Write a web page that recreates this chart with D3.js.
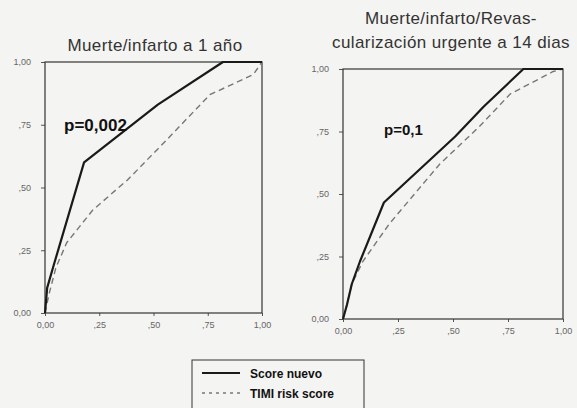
<!DOCTYPE html>
<html>
<head>
<meta charset="utf-8">
<script src="https://cdn.jsdelivr.net/npm/d3@7"></script>
<style>
  body { margin: 0; background: #f4f4f2; }
  svg { display: block; font-family: "Liberation Sans", Arial, sans-serif; }
</style>
</head>
<body>
<div id="chart"></div>
<script>
// tick values and labels (both axes)
const tickVals = [0, 0.25, 0.5, 0.75, 1];
const tickLabels = ["0,00", ",25", ",50", ",75", "1,00"];

// left panel: Muerte/infarto a 1 año
const leftScore = [[0,0],[0.01,0.1],[0.04,0.19],[0.18,0.6],[0.52,0.83],[0.82,1],[1,1]];
const leftTimi = [[0,0],[0.02,0.08],[0.05,0.18],[0.1,0.28],[0.22,0.41],[0.38,0.53],[0.55,0.68],[0.76,0.87],[0.96,0.95],[1,1]];

// right panel: Muerte/infarto/Revascularización urgente a 14 dias
const rightScore = [[0,0],[0.018,0.057],[0.04,0.14],[0.077,0.23],[0.186,0.466],[0.51,0.73],[0.64,0.85],[0.82,1],[1,1]];
const rightTimi = [[0,0],[0.018,0.057],[0.04,0.14],[0.09,0.23],[0.21,0.38],[0.44,0.62],[0.62,0.77],[0.76,0.9],[0.955,0.99],[1,1]];

const svg = d3.select("#chart").append("svg")
    .attr("width", 577)
    .attr("height", 408);

function drawPanel(cfg)
{
    const x = d3.scaleLinear([0, 1], cfg.xr);
    const y = d3.scaleLinear([0, 1], cfg.yr);
    const g = svg.append("g");

    const fmt = (d) => tickLabels[tickVals.indexOf(d)];

    const ax = g.append("g")
        .attr("transform", `translate(0,${cfg.yr[0]})`)
        .call(d3.axisBottom(x).tickValues(tickVals).tickFormat(fmt).tickSize(3).tickSizeOuter(0).tickPadding(6));
    const ay = g.append("g")
        .attr("transform", `translate(${cfg.xr[0]},0)`)
        .call(d3.axisLeft(y).tickValues(tickVals).tickFormat(fmt).tickSize(4).tickSizeOuter(0).tickPadding(10));

    for (const a of [ax, ay]) {
        a.select(".domain").remove();
        a.selectAll("line").attr("stroke", "#555");
        a.selectAll("text").attr("fill", "#666").style("font-size", "9px");
    }

    // frame
    g.append("rect")
        .attr("x", cfg.xr[0]).attr("y", cfg.yr[1])
        .attr("width", cfg.xr[1] - cfg.xr[0])
        .attr("height", cfg.yr[0] - cfg.yr[1])
        .attr("fill", "none")
        .attr("stroke", "#333")
        .attr("stroke-width", 1.2);

    const line = d3.line().x(d => x(d[0])).y(d => y(d[1]));

    g.append("path")
        .datum(cfg.timi)
        .attr("d", line)
        .attr("fill", "none")
        .attr("stroke", "#777")
        .attr("stroke-width", 1.4)
        .attr("stroke-dasharray", "6,4");

    g.append("path")
        .datum(cfg.score)
        .attr("d", line)
        .attr("fill", "none")
        .attr("stroke", "#1a1a1a")
        .attr("stroke-width", 2.2)
        .attr("stroke-linejoin", "round");

    // titles
    cfg.title.forEach((t, i) => {
        g.append("text")
            .attr("x", cfg.titleX)
            .attr("y", cfg.titleY + i * 24)
            .attr("text-anchor", "middle")
            .attr("fill", "#333")
            .style("font-size", "17px")
            .style("letter-spacing", "0.4px")
            .text(t);
    });

    g.append("text")
        .attr("x", cfg.pPos[0])
        .attr("y", cfg.pPos[1])
        .attr("fill", "#111")
        .style("font-size", cfg.pSize)
        .style("font-weight", "bold")
        .text(cfg.p);
}

drawPanel({
    xr: [45, 262], yr: [313, 62],
    score: leftScore, timi: leftTimi,
    title: ["Muerte/infarto a 1 año"], titleX: 155, titleY: 51,
    p: "p=0,002", pPos: [64, 131], pSize: "17px"
});

drawPanel({
    xr: [343, 563], yr: [319, 69],
    score: rightScore, timi: rightTimi,
    title: ["Muerte/infarto/Revas-", "cularización urgente a 14 dias"], titleX: 451, titleY: 24,
    p: "p=0,1", pPos: [384, 135], pSize: "15px"
});

// legend
const lg = svg.append("g");
lg.append("rect")
    .attr("x", 192).attr("y", 360)
    .attr("width", 172).attr("height", 60)
    .attr("fill", "none")
    .attr("stroke", "#333")
    .attr("stroke-width", 1);

const legendItems = [
    { label: "Score nuevo", color: "#1a1a1a", width: 2, dash: null },
    { label: "TIMI risk score", color: "#777", width: 1.3, dash: "3,4" }
];
legendItems.forEach((d, i) => {
    const yy = 373 + i * 20;
    lg.append("line")
        .attr("x1", 202).attr("x2", 240)
        .attr("y1", yy).attr("y2", yy)
        .attr("stroke", d.color)
        .attr("stroke-width", d.width)
        .attr("stroke-dasharray", d.dash);
    lg.append("text")
        .attr("x", 250).attr("y", yy + 5)
        .attr("fill", "#111")
        .style("font-size", "12px")
        .style("font-weight", "bold")
        .text(d.label);
});
</script>
</body>
</html>
